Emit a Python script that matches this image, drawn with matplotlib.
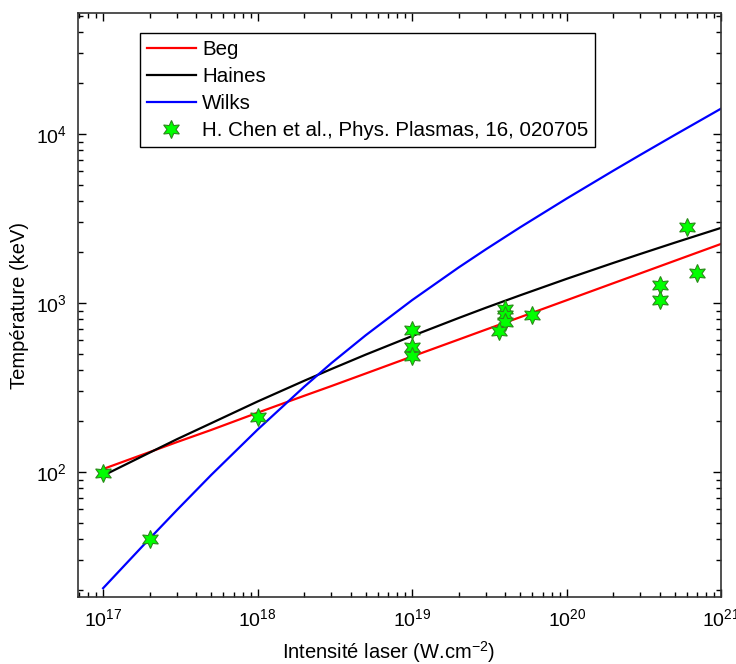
import numpy as np
import matplotlib
matplotlib.use("Agg")
import matplotlib.pyplot as plt
from matplotlib.ticker import LogLocator, NullFormatter

plt.rcParams["font.family"] = ["Liberation Sans", "DejaVu Sans"]
plt.rcParams["mathtext.fontset"] = "custom"
plt.rcParams["mathtext.rm"] = "Liberation Sans"

# intensity grid (W/cm2) for the model curves
intensity = [1e17, 2e17, 3e17, 5e17, 1e18, 2e18, 3e18, 5e18, 1e19,
             2e19, 3e19, 5e19, 1e20, 2e20, 3e20, 5e20, 1e21]
t_beg = [104, 131, 150, 177, 224, 282, 322, 382, 482,
         607, 695, 823, 1037, 1307, 1496, 1774, 2235]
t_haines = [95, 130, 156, 194, 261, 346, 406, 494, 637,
            814, 936, 1109, 1388, 1723, 1949, 2271, 2781]
t_wilks = [20.5, 40.3, 59.4, 95.8, 178, 319, 440, 643, 1039,
           1621, 2075, 2801, 4145, 6054, 7521, 9850, 14130]

# H. Chen et al. measurements
chen_i = [1e17, 2e17, 1e18, 1e19, 1e19, 1e19, 4e19, 4e19, 4e19, 3.65e19,
          6e19, 4e20, 4e20, 6e20, 7e20]
chen_t = [98, 40, 210, 690, 550, 484, 915, 846, 766, 682,
          846, 1273, 1037, 2795, 1493]

fig = plt.figure(figsize=(7.36, 6.64), dpi=100)
ax = fig.add_axes([0.106, 0.101, 0.874, 0.879])

ax.plot(intensity, t_beg, color="#ff0000", lw=1.6, label="Beg")
ax.plot(intensity, t_haines, color="#000000", lw=1.6, label="Haines")
ax.plot(intensity, t_wilks, color="#0000ff", lw=1.6, label="Wilks")
ax.plot(chen_i, chen_t, linestyle="none", marker=(6, 1, 0), markersize=13,
        markerfacecolor="#00ff00", markeredgecolor="#2b8a1a", markeredgewidth=0.8,
        label="H. Chen et al., Phys. Plasmas, 16, 020705")

ax.set_xscale("log")
ax.set_yscale("log")
ax.set_xlim(6.88e16, 1e21)
ax.set_ylim(18.2, 5.17e4)

ax.xaxis.set_major_locator(LogLocator(base=10, numticks=10))
ax.xaxis.set_minor_locator(LogLocator(base=10, subs=np.arange(2, 10), numticks=20))
ax.yaxis.set_minor_locator(LogLocator(base=10, subs=np.arange(2, 10), numticks=20))
ax.xaxis.set_minor_formatter(NullFormatter())
ax.yaxis.set_minor_formatter(NullFormatter())

ax.tick_params(which="both", direction="in", top=True, right=True, labelsize=14, width=1)
ax.tick_params(which="major", length=6, pad=8)
ax.tick_params(which="minor", length=3.5)
for s in ax.spines.values():
    s.set_linewidth(1.2)
    s.set_color("#333333")

ax.set_xlabel(r"Intensité laser (W.cm$^{-2}$)", fontsize=14.5)
ax.xaxis.set_label_coords(0.483, -0.072)
ax.set_ylabel("Température (keV)", fontsize=14.5)
ax.yaxis.set_label_coords(-0.076, 0.5)

leg = ax.legend(loc="upper left", bbox_to_anchor=(0.0964, 0.966), borderaxespad=0,
                fancybox=False, edgecolor="#000000", framealpha=1, handlelength=2.4,
                prop={"size": 14.8}, borderpad=0.32,
                labelspacing=0.4, handletextpad=0.3)
leg.get_frame().set_linewidth(1.0)

fig.savefig("out.png", dpi=100, facecolor="white")
